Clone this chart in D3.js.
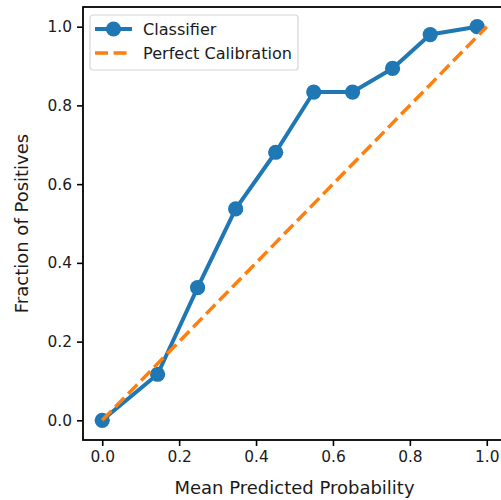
<!DOCTYPE html>
<html>
<head>
<meta charset="utf-8">
<script src="https://cdn.jsdelivr.net/npm/d3@7"></script>
<style>
  body { margin: 0; background: #fff; }
  svg { display: block; font-family: "DejaVu Sans", sans-serif; }
</style>
</head>
<body>
<svg width="501" height="500"></svg>
<script>
// Calibration curve values
const meanPredicted = [0.0, 0.144, 0.248, 0.347, 0.451, 0.55, 0.651, 0.755, 0.853, 0.975];
const fractionPositives = [0.0, 0.117, 0.337, 0.537, 0.681, 0.834, 0.834, 0.894, 0.980, 1.0];
const perfectLine = [0, 1];
const tickValues = [0.0, 0.2, 0.4, 0.6, 0.8, 1.0];
const legendLabels = ["Classifier", "Perfect Calibration"];

const blue = "#1f77b4", orange = "#ff7f0e";
const margin = {left: 83, top: 7};
const width = 423, height = 433;

const svg = d3.select("svg");
const g = svg.append("g").attr("transform", `translate(${margin.left},${margin.top})`);

const x = d3.scaleLinear().domain([-0.05, 1.05]).range([0, width]);
const y = d3.scaleLinear().domain([-0.05, 1.05]).range([height, 0]);

// axes
const xAxis = g.append("g")
    .attr("transform", `translate(0,${height})`)
    .call(d3.axisBottom(x).tickValues(tickValues).tickFormat(d3.format(".1f")).tickSize(6).tickPadding(5).tickSizeOuter(0));
const yAxis = g.append("g")
    .call(d3.axisLeft(y).tickValues(tickValues).tickFormat(d3.format(".1f")).tickSize(6).tickPadding(5).tickSizeOuter(0));

[xAxis, yAxis].forEach(a => {
  a.select(".domain").remove();
  a.selectAll(".tick line").attr("stroke", "#000").attr("stroke-width", 1.6);
  a.selectAll(".tick text").attr("font-size", 15.4).attr("fill", "#1a1a1a")
    .attr("font-family", "DejaVu Sans");
});

// spines
g.append("rect")
    .attr("x", 0).attr("y", 0)
    .attr("width", width).attr("height", height)
    .attr("fill", "none").attr("stroke", "#000").attr("stroke-width", 1.8);

// classifier curve
const pts = meanPredicted.map((d, i) => [d, fractionPositives[i]]);
g.append("path")
    .datum(pts)
    .attr("d", d3.line().x(d => x(d[0])).y(d => y(d[1])))
    .attr("fill", "none").attr("stroke", blue).attr("stroke-width", 4)
    .attr("stroke-linejoin", "round");
g.selectAll(".pt")
    .data(pts)
    .join("circle")
    .attr("class", "pt")
    .attr("cx", d => x(d[0])).attr("cy", d => y(d[1]))
    .attr("r", 7.6).attr("fill", blue);

// perfect calibration, drawn on top
g.append("line")
    .attr("x1", x(perfectLine[0])).attr("y1", y(perfectLine[0]))
    .attr("x2", x(perfectLine[1])).attr("y2", y(perfectLine[1]))
    .attr("stroke", orange).attr("stroke-width", 3.5)
    .attr("stroke-dasharray", "13,5.6");

// axis labels
svg.append("text")
    .attr("x", margin.left + x(0.5)).attr("y", 494)
    .attr("text-anchor", "middle").attr("font-size", 18).attr("fill", "#1a1a1a")
    .text("Mean Predicted Probability");
svg.append("text")
    .attr("transform", `translate(28,${margin.top + height / 2}) rotate(-90)`)
    .attr("text-anchor", "middle").attr("font-size", 18).attr("fill", "#1a1a1a")
    .text("Fraction of Positives");

// legend
const lg = svg.append("g").attr("transform", "translate(90,15)");
lg.append("rect")
    .attr("x", 0).attr("y", 0).attr("width", 208).attr("height", 55)
    .attr("rx", 3).attr("fill", "#fff").attr("fill-opacity", 0.8)
    .attr("stroke", "#d6d6d6").attr("stroke-width", 1.2);
lg.append("line").attr("x1", 5).attr("x2", 42).attr("y1", 14).attr("y2", 14)
    .attr("stroke", blue).attr("stroke-width", 4);
lg.append("circle").attr("cx", 23.5).attr("cy", 14).attr("r", 7.6).attr("fill", blue);
lg.append("line").attr("x1", 5).attr("x2", 42).attr("y1", 38).attr("y2", 38)
    .attr("stroke", orange).attr("stroke-width", 3.5).attr("stroke-dasharray", "13,5.6");
lg.selectAll(".lt")
    .data(legendLabels)
    .join("text")
    .attr("class", "lt")
    .attr("x", 53).attr("y", (d, i) => 14 + i * 24)
    .attr("dy", "0.36em")
    .attr("font-size", 16.1).attr("fill", "#1a1a1a")
    .text(d => d);
</script>
</body>
</html>
